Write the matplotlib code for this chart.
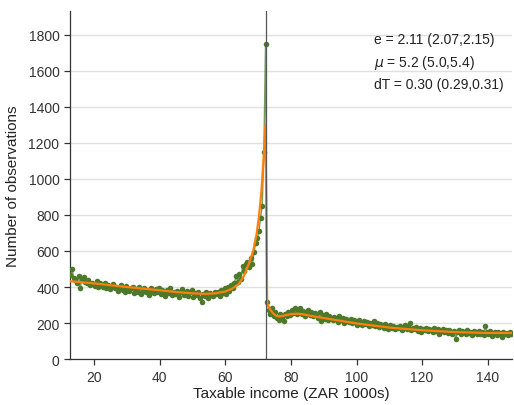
import numpy as np
import matplotlib.pyplot as plt

plt.rcParams['font.family'] = ['Liberation Sans', 'DejaVu Sans']

# bin centres of taxable income (ZAR 1000s), 0.5 wide
bin_lo, bin_hi, bin_w = 12.5, 147.5, 0.5
threshold = 72.5

# observed counts, below the threshold (12.75 .. 71.75)
counts_below = [
    465, 500, 452, 440, 425, 462, 395, 445, 455, 428,
    420, 438, 412, 425, 418, 405, 432, 398, 421, 410,
    402, 425, 395, 412, 388, 405, 418, 392, 400, 380,
    398, 410, 385, 372, 405, 390, 378, 395, 402, 368,
    388, 375, 398, 362, 380, 392, 370, 385, 358, 392,
    378, 365, 388, 372, 395, 360, 382, 370, 350, 385,
    368, 392, 355, 375, 362, 380, 345, 372, 388, 358,
    365, 378, 350, 370, 382, 345, 368, 358, 375, 340,
    315, 362, 350, 372, 340, 365, 355, 348, 372, 360,
    375, 350, 385, 368, 395, 362, 398, 380, 410, 392,
    420, 460, 430, 470, 445, 515, 490, 525, 540, 510,
    560, 526, 594, 645, 670, 710, 785, 850, 1150,
]
# bunching bin at the threshold (72.25)
count_peak = [1750]
# observed counts, above the threshold (72.75 .. 147.25)
counts_above = [
    315, 272, 250, 282, 240, 262, 228, 215, 248, 235,
    212, 250, 238, 262, 245, 270, 255, 282, 248, 265,
    285, 252, 268, 240, 258, 275, 245, 262, 238, 255,
    248, 230, 262, 210, 242, 225, 250, 218, 238, 228,
    215, 235, 222, 205, 240, 218, 228, 200, 225, 212,
    205, 222, 198, 215, 208, 192, 218, 200, 188, 210,
    195, 208, 182, 200, 192, 210, 185, 198, 178, 195,
    188, 172, 195, 180, 168, 190, 175, 185, 165, 178,
    170, 182, 162, 175, 188, 168, 178, 203, 160, 172,
    165, 178, 158, 170, 150, 168, 162, 175, 155, 165,
    160, 148, 170, 155, 165, 142, 158, 168, 150, 160,
    145, 162, 152, 138, 158, 111, 148, 160, 142, 155,
    150, 138, 160, 145, 152, 132, 155, 148, 140, 158,
    142, 150, 135, 184, 148, 138, 155, 130, 145, 152,
    135, 148, 140, 125, 150, 138, 145, 132, 148, 140,
]

fit_x = [12.75, 20, 30, 40, 45, 50, 54, 57, 60, 62, 64, 65.5, 67, 68.5,
         69.5, 70.25, 71, 71.75, 72.25,
         72.75, 73.5, 74.5, 75.5, 76.5, 78, 80, 82, 84, 86, 90, 95, 100,
         110, 120, 130, 140, 147.25]
fit_y = [432, 420, 400, 382, 372, 365, 362, 365, 375, 390, 415, 455, 520, 600,
         690, 790, 930, 1140, 1295,
         310, 280, 255, 240, 237, 242, 250, 252, 248, 240, 228, 213, 198,
         175, 160, 150, 145, 145]

est_text = 'e = 2.11 (2.07,2.15)\n$\\mu$ = 5.2 (5.0,5.4)\ndT = 0.30 (0.29,0.31)'

counts = np.array(counts_below + count_peak + counts_above)
centres = np.arange(bin_lo + bin_w / 2, bin_hi, bin_w)

fig = plt.figure(figsize=(5.14, 4.06), dpi=100)
ax = fig.add_axes([0.136, 0.113, 0.86, 0.857])

green = '#4d7a2a'
ax.plot(centres, counts, color=green, lw=1.0, alpha=0.75, zorder=3)
ax.plot(centres, counts, 'o', color=green, ms=4, mew=0, zorder=3)
ax.plot(fit_x, fit_y, color='#ff7f0e', lw=1.6, zorder=4)
ax.axvline(threshold, color='#555555', lw=0.9, zorder=5)

ax.set_xlim(12.6, 147.4)
ax.set_ylim(0, 1930)
ax.set_yticks(np.arange(0, 1801, 200))
ax.set_xticks(np.arange(20, 141, 20))
ax.grid(axis='y', color='#e0e0e0', lw=1, zorder=0)
ax.set_axisbelow(True)
for s in ['top', 'right']:
    ax.spines[s].set_visible(False)
for s in ['left', 'bottom']:
    ax.spines[s].set_color('#333333')
    ax.spines[s].set_linewidth(0.9)
ax.tick_params(colors='#333333', labelsize=10, length=4, width=0.9)
ax.set_xlabel('Taxable income (ZAR 1000s)', fontsize=11, color='#222222', labelpad=2)
ax.set_ylabel('Number of observations', fontsize=11, color='#222222', labelpad=6)

ax.text(0.688, 0.94, est_text, transform=ax.transAxes, ha='left', va='top',
        fontsize=10, color='#222222', linespacing=1.55)

fig.savefig('out.png', dpi=100)
